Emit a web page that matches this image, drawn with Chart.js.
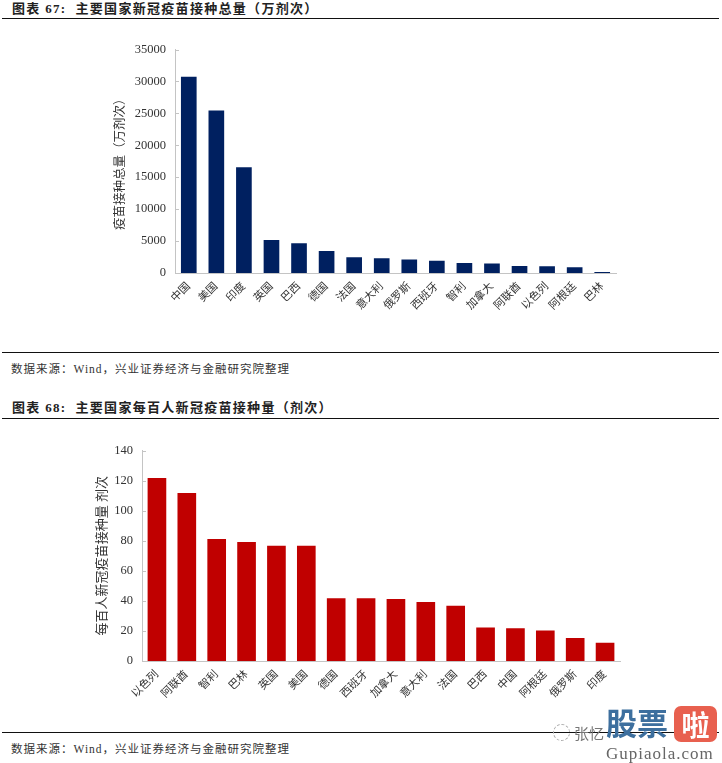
<!DOCTYPE html>
<html>
<head>
<meta charset="utf-8">
<script src="https://cdn.jsdelivr.net/npm/chart.js@4/dist/chart.umd.min.js"></script>
<style>
  html, body { margin: 0; padding: 0; background: #fff; }
  body { position: relative; width: 722px; height: 763px; overflow: hidden; font-family: "Liberation Serif", "Noto Sans CJK SC", serif; color: #222; }
  .title { position: absolute; left: 12px; font-size: 13px; font-weight: bold; letter-spacing: 1.3px; white-space: nowrap; line-height: 16px; }
  .source { position: absolute; left: 11px; font-size: 11.5px; letter-spacing: 1px; white-space: nowrap; line-height: 14px; color: #333; }
  .rule { position: absolute; left: 2px; width: 717px; height: 1px; background: #111; }
  .box { position: absolute; }
  .mark { position: absolute; white-space: nowrap; }
</style>
</head>
<body>
<div class="title" style="top:1px">图表 67:&nbsp; 主要国家新冠疫苗接种总量（万剂次）</div>
<div class="rule" style="top:18px"></div>
<div class="box" style="left:113px;top:33px;width:532px;height:307px"><canvas id="totalChart"></canvas></div>
<div class="rule" style="top:352px"></div>
<div class="source" style="top:362px">数据来源：Wind，兴业证券经济与金融研究院整理</div>
<div class="title" style="top:400px">图表 68:&nbsp; 主要国家每百人新冠疫苗接种量（剂次）</div>
<div class="rule" style="top:418px"></div>
<div class="box" style="left:95px;top:434px;width:555px;height:291px"><canvas id="perHundredChart"></canvas></div>
<div class="rule" style="top:732px"></div>
<div class="source" style="top:742px">数据来源：Wind，兴业证券经济与金融研究院整理</div>
<div class="mark" style="left:553px;top:724px;width:15px;height:15px;border:1px dashed #aaa;border-radius:50%"></div>
<div class="mark" style="left:574px;top:722px;font:15px 'Noto Sans CJK SC';color:#777">张忆</div>
<div class="mark" style="left:606px;top:704px;font:bold 31px/36px 'Noto Sans CJK SC';color:#3d6f9e;letter-spacing:0">股票</div>
<div class="mark" style="left:674px;top:706px;width:43px;height:36px;background:#e8604f;border-radius:7px;font:bold 28px/36px 'Noto Sans CJK SC';color:#fff;text-align:center">啦</div>
<div class="mark" style="left:606px;top:745px;font:17px/17px 'Liberation Serif';color:#666;letter-spacing:1px">Gupiaola.com</div>
<script>
const totalLabels = ['中国', '美国', '印度', '英国', '巴西', '德国', '法国', '意大利', '俄罗斯', '西班牙', '智利', '加拿大', '阿联酋', '以色列', '阿根廷', '巴林'];
const totalValues = [30700, 25400, 16500, 5100, 4600, 3400, 2400, 2250, 2050, 1850, 1500, 1450, 1050, 1000, 850, 100];
const totalTicks = [0, 5000, 10000, 15000, 20000, 25000, 30000, 35000];

const perLabels = ['以色列', '阿联酋', '智利', '巴林', '英国', '美国', '德国', '西班牙', '加拿大', '意大利', '法国', '巴西', '中国', '阿根廷', '俄罗斯', '印度'];
const perValues = [121.5, 111.5, 81, 79, 76.5, 76.5, 41.5, 41.5, 41, 39, 36.5, 22, 21.5, 20, 15, 12];
const perTicks = [0, 20, 40, 60, 80, 100, 120, 140];

const serif = '"Liberation Serif", "Noto Sans CJK SC", serif';

// small inward tick marks on the value axis
const innerTicks = {
  id: 'innerTicks',
  afterDraw(chart) {
    const y = chart.scales.y;
    const ctx = chart.ctx;
    ctx.save();
    ctx.strokeStyle = '#c4c4c4';
    ctx.lineWidth = 1;
    y.ticks.forEach((t, i) => {
      const py = Math.round(y.getPixelForTick(i)) + 0.5;
      ctx.beginPath();
      ctx.moveTo(y.right, py);
      ctx.lineTo(y.right + 4, py);
      ctx.stroke();
    });
    ctx.restore();
  }
};

function makeChart(id, labels, values, ticks, o) {
  return new Chart(document.getElementById(id).getContext('2d'), {
    type: 'bar',
    data: {
      labels: labels,
      datasets: [{ data: values, backgroundColor: o.color, barThickness: o.bar }]
    },
    plugins: [innerTicks],
    options: {
      responsive: true,
      maintainAspectRatio: false,
      animation: false,
      layout: { padding: o.padding },
      plugins: { legend: { display: false }, tooltip: { enabled: false } },
      scales: {
        x: {
          afterFit(s) { s.height = o.xHeight; },
          grid: { display: false, drawTicks: false },
          border: { color: '#c4c4c4' },
          ticks: { color: '#333', font: { family: serif, size: 11 }, minRotation: 45, maxRotation: 45, autoSkip: false, padding: 7 }
        },
        y: {
          min: 0,
          max: ticks[ticks.length - 1],
          afterBuildTicks(s) { s.ticks = ticks.map(v => ({ value: v })); },
          afterFit(s) { s.width = o.yWidth; },
          grid: { display: false, drawTicks: false },
          border: { color: '#c4c4c4' },
          ticks: { color: '#333', font: { family: serif, size: 12.5 }, padding: 9, callback: v => String(v) },
          title: { display: true, text: o.yTitle, color: '#333', font: { family: serif, size: o.titleSize }, padding: 0 }
        }
      }
    }
  });
}

makeChart('totalChart', totalLabels, totalValues, totalTicks, {
  color: '#002060', bar: 15, padding: { top: 9, right: 29 }, xHeight: 67, yWidth: 62,
  titleSize: 12.5, yTitle: '疫苗接种总量（万剂次）'
});
makeChart('perHundredChart', perLabels, perValues, perTicks, {
  color: '#c00000', bar: 18, padding: { top: 11, right: 30 }, xHeight: 64, yWidth: 47,
  titleSize: 13, yTitle: '每百人新冠疫苗接种量 剂次'
});
</script>
</body>
</html>
